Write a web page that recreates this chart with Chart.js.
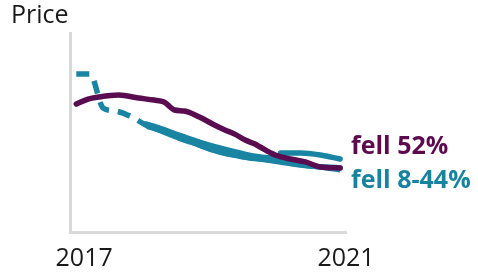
<!DOCTYPE html>
<html><head><meta charset="utf-8">
<script src="https://cdn.jsdelivr.net/npm/chart.js@4"></script>
<style>
html,body{margin:0;padding:0;background:#fff;}
#wrap{position:relative;width:478px;height:276px;overflow:hidden;}
canvas{position:absolute;left:0;top:0;}
.t{position:absolute;font-family:"Open Sans",sans-serif;white-space:nowrap;line-height:1;}
</style></head><body>
<div id="wrap">
<canvas id="c" width="478" height="276"></canvas>
<div class="t" style="left:11px;top:1px;font-size:25px;color:#1a1a1a;">Price</div>
<div class="t" style="left:351px;top:132px;font-size:25px;font-weight:700;color:#5c0b4f;">fell 52%</div>
<div class="t" style="left:351px;top:166px;font-size:25px;font-weight:700;color:#17839f;">fell 8-44%</div>
</div>
<script>
// x = decimal year, y = price index (axis 0..100)
const xTicks = [2017, 2021];

const purpleX = [2016.88,2017.06,2017.22,2017.53,2017.83,2018.07,2018.22,2018.38,2018.53,2018.76,2018.99,2019.15,2019.30,2019.46,2019.61,2019.69,2019.92,2020.15,2020.38,2020.61,2020.91];
const purpleY = [64.3,66.8,67.8,68.8,67.3,66.3,65.3,61.3,60.8,57.8,53.8,51.3,49.2,46.2,44.2,42.7,38.7,36.7,35.2,32.7,32.2];

const tealAX = [2016.88,2017.09,2017.29,2017.48,2017.73,2017.94,2018.14,2018.45,2018.76,2019.07,2019.38,2019.69,2020.00,2020.31,2020.61,2020.91];
const tealAY = [79.4,79.4,62.3,60.8,57.8,53.8,51.3,47.2,43.7,40.2,38.2,36.7,35.2,33.7,32.7,31.2];

const tealBX = [2017.94,2018.14,2018.45,2018.76,2019.07,2019.38,2019.69,2019.92,2019.96,2020.00,2020.31,2020.61,2020.91];
const tealBY = [54.3,52.3,48.7,45.2,42.2,39.7,37.7,37.2,null,39.7,39.7,38.7,36.7];

const tealCX = [2017.99,2018.30,2018.61,2018.92,2019.22,2019.53,2019.84,2020.15,2020.46,2020.91];
const tealCY = [52.8,49.7,45.7,41.7,39.2,37.2,36.2,34.7,33.2,32.2];

const dashEnd = 2017.94;

const PURPLE = '#5a0c50';
const TEAL = '#1a84a3';

const pts = (xs, ys) => xs.map((x, i) => ({x, y: ys[i]}));

const common = {
  pointRadius: 0, borderWidth: 5.5, fill: false,
  cubicInterpolationMode: 'monotone',
  borderCapStyle: 'round', borderJoinStyle: 'round', spanGaps: false
};

new Chart(document.getElementById('c'), {
  type: 'line',
  data: {
    datasets: [
      Object.assign({}, common, {label: 'fell 52%', data: pts(purpleX, purpleY), borderColor: PURPLE, order: 0}),
      Object.assign({}, common, {label: 'teal A', data: pts(tealAX, tealAY), borderColor: TEAL, order: 1,
        borderCapStyle: 'butt',
        segment: { borderDash: ctx => ctx.p1.parsed.x <= dashEnd ? [13, 9] : [] }}),
      Object.assign({}, common, {label: 'teal B', data: pts(tealBX, tealBY), borderColor: TEAL, order: 2}),
      Object.assign({}, common, {label: 'teal C', data: pts(tealCX, tealCY), borderColor: TEAL, order: 3})
    ]
  },
  options: {
    responsive: false, animation: false,
    layout: { padding: { left: 70, right: 132, top: 33, bottom: 2 } },
    plugins: { legend: { display: false }, tooltip: { enabled: false } },
    scales: {
      x: {
        type: 'linear', min: 2016.784, max: 2021,
        grid: { display: false, drawTicks: false },
        border: { display: true, color: '#d9d9d9', width: 3 },
        afterBuildTicks: axis => { axis.ticks = xTicks.map(v => ({value: v})); },
        afterFit: axis => { axis.height = 42; },
        ticks: {
          autoSkip: false, maxRotation: 0, padding: 12,
          color: '#1a1a1a',
          font: { family: 'Open Sans', size: 25 },
          callback: v => String(v)
        }
      },
      y: {
        min: 0, max: 100,
        grid: { display: false, drawTicks: false },
        border: { display: true, color: '#d9d9d9', width: 3 },
        ticks: { display: false }
      }
    }
  }
});
</script>
</body></html>
